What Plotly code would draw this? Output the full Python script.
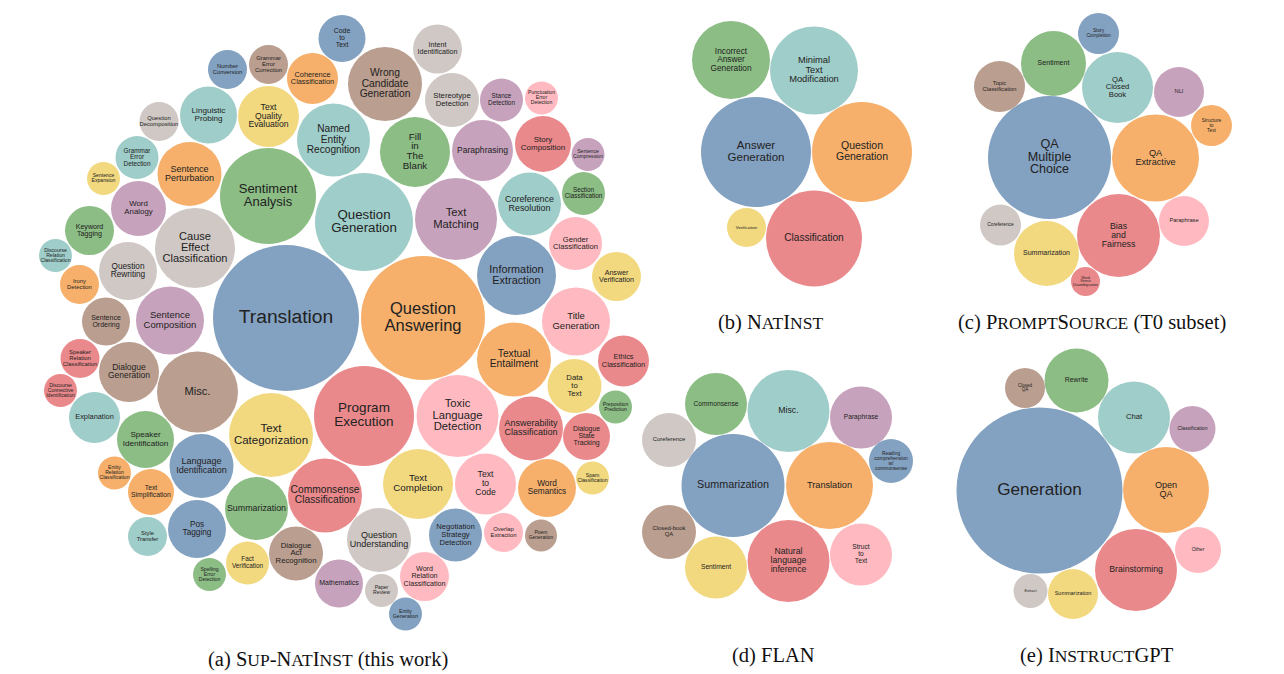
import plotly.graph_objects as go

# ---------------- data ----------------
# (a) SUP-NATINST : task categories and their bubble areas (px^2)
labels_a = ["Translation", "Question Answering", "Program Execution", "Question Generation",
            "Sentiment Analysis", "Text Categorization", "Text Matching", "Toxic Language Detection",
            "Misc.", "Cause Effect Classification", "Information Extraction", "Textual Entailment",
            "Commonsense Classification", "Named Entity Recognition",
            "Fill in The Blank", "Text Completion", "Sentence Composition", "Title Generation",
            "Wrong Candidate Generation",
            "Question Understanding", "Language Identification", "Sentence Perturbation",
            "Answerability Classification", "Coreference Resolution", "Summarization",
            "Text Quality Evaluation", "Paraphrasing", "Text to Code", "Dialogue Generation",
            "Question Rewriting", "Pos Tagging", "Word Semantics", "Story Composition",
            "Linguistic Probing", "Speaker Identification", "Data to Text", "Word Analogy",
            "Gender Classification", "Dialogue Act Recognition", "Stereotype Detection",
            "Negotiation Strategy Detection", "Coherence Classification", "Ethics Classification",
            "Explanation", "Keyword Tagging", "Answer Verification", "Mathematics",
            "Word Relation Classification", "Sentence Ordering", "Intent Identification",
            "Code to Text", "Text Simplification", "Dialogue State Tracking", "Style Transfer",
            "Section Classification", "Fact Verification", "Stance Detection", "Overlap Extraction",
            "Grammar Error Correction", "Question Decomposition", "Number Conversion",
            "Irony Detection", "Speaker Relation Classification", "Grammar Error Detection",
            "Preposition Prediction", "Sentence Expansion", "Sentence Compression",
            "Punctuation Error Detection", "Poem Generation", "Paper Review", "Entity Generation",
            "Entity Relation Classification", "Discourse Connective Identification",
            "Discourse Relation Classification", "Spelling Error Detection", "Spam Classification"]
values_a = [5329, 3844, 2500, 2401, 2304, 1764, 1681, 1681, 1640, 1600, 1560, 1369,
            1369, 1332, 1225, 1225, 1156, 1156, 1369,
            1024, 1024, 1024, 1024, 992, 992, 930, 930, 930, 900,
            841, 841, 841, 784, 812, 812, 729, 756, 702, 729, 729, 702, 650, 650, 650, 600, 600,
            576, 600, 576, 600, 552, 529, 552, 380, 462, 462, 462, 380, 380, 380, 380, 380, 380,
            462, 272, 272, 272, 272, 256, 272, 272, 272, 272, 272, 272, 272]

# (b) NATINST
labels_b = ["Answer Generation", "Question Generation", "Classification",
            "Minimal Text Modification", "Incorrect Answer Generation", "Verification"]
values_b = [3025, 2500, 2304, 1936, 1521, 380]

# (c) PROMPTSOURCE (T0 subset)
labels_c = ["QA Multiple Choice", "QA Extractive", "Bias and Fairness", "QA Closed Book",
            "Sentiment", "Summarization", "NLI", "Paraphrase", "Topic Classification",
            "Coreference", "Story Completion", "Structure to Text", "Word Sense Disambiguation"]
values_c = [3782, 1892, 1722, 1260, 1056, 1056, 625, 625, 650, 420, 420, 420, 210]

# (d) FLAN
labels_d = ["Summarization", "Translation", "Natural language inference", "Misc.",
            "Commonsense", "Sentiment", "Paraphrase", "Struct to Text", "Closed-book QA",
            "Coreference", "Reading comprehension w/ commonsense"]
values_d = [2652, 1892, 1681, 1681, 961, 961, 961, 961, 729, 729, 484]

# (e) INSTRUCTGPT
labels_e = ["Generation", "Open QA", "Brainstorming", "Chat", "Rewrite", "Summarization",
            "Classification", "Other", "Closed QA", "Extract"]
values_e = [6889, 1849, 1681, 1296, 1024, 625, 529, 529, 400, 289]

# ---------------- layout (packed bubble centres, page px) ----------------
pos_a = [(286, 318), (423, 318), (364, 416), (364, 222), (268, 196), (271, 435), (456, 219),
         (457.5, 416), (197.5, 392), (195, 248), (516.5, 275.5), (514, 359.5),
         (325, 495.5), (333.5, 140), (415, 152), (418, 484), (170, 320.5), (576, 321.5),
         (385, 84),
         (379, 540), (201.5, 466), (189.5, 174), (531, 428.5), (529.5, 204), (256.5, 508.5),
         (268.5, 116.5), (482.5, 150.5), (485.5, 484), (129, 372), (128, 271), (197, 529),
         (547, 488), (543, 144), (208.5, 115), (145.5, 439.5), (574.5, 386), (138.5, 208.5),
         (575.5, 243.5), (296, 553.5), (452, 100), (455.5, 535), (312.5, 78.5), (623.5, 361),
         (94.5, 417.5), (89.5, 230.5), (616.5, 276.5), (339, 583.5), (424.5, 576.5),
         (106, 321.5), (437.5, 49), (342, 38.5), (151, 492), (586.5, 436.5), (147.5, 536.5),
         (583.5, 193.5), (247.5, 563), (501.5, 100), (503.5, 532.5), (268.5, 64.5),
         (159, 121.5), (227.5, 69.5), (79.5, 284.5), (80, 358.5), (137, 157.5), (615.5, 407),
         (103.5, 178.5), (588, 154.5), (541.5, 98), (541, 535.5), (381.5, 590.5),
         (405.5, 614), (114.5, 473), (60.5, 390.5), (55.5, 255.5), (209.5, 574.5), (592.5, 478)]
pos_b = [(756, 152), (862, 152), (814, 238.5), (814, 70.5), (731, 60), (746.5, 227.5)]
pos_c = [(1049.5, 157.5), (1155.5, 158), (1118.5, 235.5), (1117.5, 87.5), (1053.5, 63.5),
         (1046.5, 253.5), (1179, 92), (1184, 221), (999.5, 86.5), (1000.5, 225),
         (1098.5, 33.5), (1211.5, 125.5), (1085.5, 281.5)]
pos_d = [(733, 485.5), (829.5, 485.5), (788.5, 561), (788.5, 411), (716, 404), (716, 567.5),
         (861, 417.5), (861, 554.5), (669, 532), (669, 440), (891, 461)]
pos_e = [(1039.5, 490.5), (1166, 490), (1136, 570), (1134, 417.5), (1076.5, 380.5),
         (1073, 594), (1192.5, 429), (1198, 550), (1025, 388), (1030.5, 591)]

PALETTE = ["#4e79a7", "#f28e2c", "#e15759", "#76b7b2", "#59a14f",
           "#edc949", "#af7aa1", "#ff9da7", "#9c755f", "#bab0ab"]


def faded(hexc, a=0.7):
    r, g, b = (int(hexc[i:i + 2], 16) for i in (1, 3, 5))
    f = lambda c: round(c * a + 255 * (1 - a))
    return "rgb(%d,%d,%d)" % (f(r), f(g), f(b))


W, H = 1284, 674
fig = go.Figure()
shapes = []

panels = [
    (labels_a, values_a, pos_a, 0.25, 1.0),
    (labels_b, values_b, pos_b, 0.20, 0.5),
    (labels_c, values_c, pos_c, 0.19, 0.9),
    (labels_d, values_d, pos_d, 0.20, 0.5),
    (labels_e, values_e, pos_e, 0.20, 0.5),
]

for labels, values, pos, fk, fc in panels:
    tx, ty, tt, ts = [], [], [], []
    for i, (lab, v, (cx, cy)) in enumerate(zip(labels, values, pos)):
        r = v ** 0.5
        shapes.append(dict(type="circle", xref="x", yref="y", layer="below",
                           x0=cx - r, x1=cx + r, y0=cy - r, y1=cy + r,
                           fillcolor=faded(PALETTE[i % 10]), line=dict(width=0)))
        fs = fk * r + fc
        lines = lab.split(" ")
        n = len(lines)
        for j, ln in enumerate(lines):
            tx.append(cx)
            ty.append(cy + (j - (n - 1) / 2) * fs * 1.02)
            tt.append(ln)
            ts.append(fs)
    fig.add_trace(go.Scatter(x=tx, y=ty, text=tt, mode="text", textposition="middle center",
                             textfont=dict(family="Liberation Sans, Arial, sans-serif",
                                           size=ts, color="#222222"),
                             hoverinfo="skip", showlegend=False))


def sc(s, small=17.5):
    return "<span style='font-size:%gpx'>%s</span>" % (small, s)


captions = [
    ("(a) S" + sc("UP") + "-N" + sc("AT") + "I" + sc("NST") + " (this work)", 328, 659),
    ("(b) N" + sc("AT") + "I" + sc("NST"), 770, 322),
    ("(c) P" + sc("ROMPT") + "S" + sc("OURCE") + " (T0 subset)", 1092, 322),
    ("(d) FLAN", 773, 655),
    ("(e) I" + sc("NSTRUCT") + "GPT", 1097, 655),
]
annotations = [dict(text=t, x=x, y=y, xref="x", yref="y", showarrow=False,
                    xanchor="center", yanchor="middle",
                    font=dict(family="Liberation Serif, Times New Roman, serif", size=20.5,
                              color="#111111"))
               for t, x, y in captions]

fig.update_layout(
    width=W, height=H, margin=dict(l=0, r=0, t=0, b=0),
    paper_bgcolor="white", plot_bgcolor="white",
    xaxis=dict(range=[0, W], visible=False, fixedrange=True),
    yaxis=dict(range=[H, 0], visible=False, fixedrange=True),
    shapes=shapes, annotations=annotations,
)

fig.write_html("out.html")
